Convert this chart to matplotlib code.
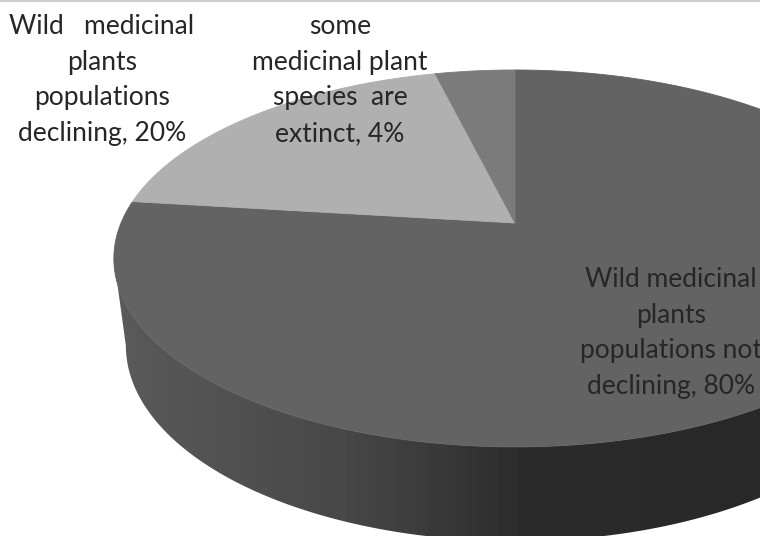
import matplotlib
matplotlib.use("Agg")
import matplotlib.pyplot as plt
from matplotlib.colors import LinearSegmentedColormap
from matplotlib.patches import Polygon
import numpy as np

plt.rcParams["font.family"] = ["Lato", "DejaVu Sans"]

labels = [
    "Wild medicinal\nplants\npopulations not\ndeclining, 80%",
    "Wild   medicinal\nplants\npopulations\ndeclining, 20%",
    "some\nmedicinal plant\nspecies  are\nextinct, 4%",
]
values = [80, 20, 4]
colors = ["#636363", "#b0b0b0", "#7b7b7b"]
label_pos = [(671, 333), (102, 80), (340, 80)]

# tilted disc: unit circle seen in perspective, apex at (cx, cy)
cx, cy = 515, 223
sx, sy, k = 394, 181.8, 0.188


def top_face(t):
    # t is the angle clockwise from 12 o'clock
    u, v = np.sin(t), np.cos(t)
    w = 1 + k * v
    return cx + sx * u / w, cy - sy * v / w


def bottom_face(t):
    # lower rim of the disc, slightly narrower and further down
    u, v = np.sin(t), np.cos(t)
    w = 1 + k * v
    x, y = sx * u / w, sy * v / w
    return cx + x * 0.97, cy + 86 - y * 1.037


fig = plt.figure(figsize=(7.6, 5.36), dpi=100)
ax = fig.add_axes([0, 0, 1, 1])
ax.set_xlim(0, 760)
ax.set_ylim(536, 0)
ax.axis("off")

# side wall, shaded left to right
t_ext = np.arccos(-k)
t_side = np.linspace(t_ext, 2 * np.pi - t_ext, 300)
top_x, top_y = top_face(t_side)
bot_x, bot_y = bottom_face(t_side)
wall = np.column_stack([np.r_[top_x, bot_x[::-1]], np.r_[top_y, bot_y[::-1]]])
wall_patch = Polygon(wall, closed=True, facecolor="none", edgecolor="none")
ax.add_patch(wall_patch)
shade = LinearSegmentedColormap.from_list(
    "wall", [(0, "#5a5a5a"), (0.35, "#484848"), (0.63, "#2c2c2c"), (1, "#282828")]
)
im = ax.imshow(
    np.linspace(0, 1, 64)[None, :],
    cmap=shade,
    extent=(114, 760, 545, 250),
    aspect="auto",
    interpolation="nearest",
)
im.set_clip_path(wall_patch)
ax.set_xlim(0, 760)
ax.set_ylim(536, 0)

# top face wedges, running clockwise from 12 o'clock
edges = np.r_[0, np.cumsum(values)] / np.sum(values) * 2 * np.pi
for start, stop, color in zip(edges[:-1], edges[1:], colors):
    t = np.linspace(start, stop, 300)
    x, y = top_face(t)
    ax.fill(np.r_[cx, x], np.r_[cy, y], facecolor=color, edgecolor=color, lw=0.6)

for text, (x, y) in zip(labels, label_pos):
    ax.text(x, y, text, ha="center", va="center", fontsize=19,
            color="#262626", linespacing=1.54)

# thin rule along the top edge
ax.axhline(0.5, color="#cfcfcf", lw=1.5)

fig.savefig("out.png", dpi=100)
